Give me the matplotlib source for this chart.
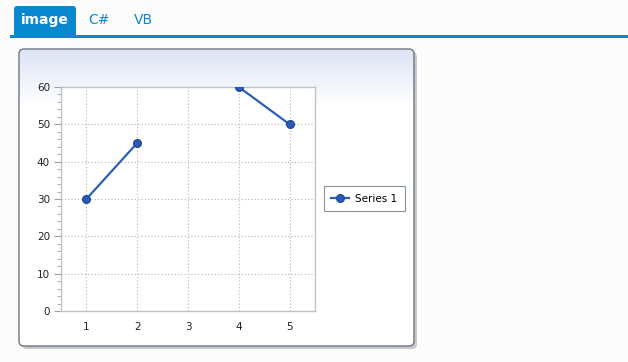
import numpy as np
import matplotlib
matplotlib.use("Agg")
import matplotlib.pyplot as plt
from matplotlib.patches import FancyBboxPatch, Rectangle
from matplotlib.lines import Line2D
from matplotlib.ticker import MultipleLocator

# data
categories = [1, 2, 3, 4, 5]
series1 = [30, 45, np.nan, 60, 50]
series_name = "Series 1"
tabs = ["image", "C#", "VB"]

W, H = 628, 362
fig = plt.figure(figsize=(W / 100, H / 100), dpi=100)
fig.patch.set_facecolor("#fcfcfc")

bg = fig.add_axes([0, 0, 1, 1])
bg.set_xlim(0, W)
bg.set_ylim(H, 0)
bg.axis("off")

# tabs
blue = "#0a88cf"
bg.add_patch(FancyBboxPatch((14, 6), 62, 32, boxstyle="round,pad=0,rounding_size=3",
                            fc=blue, ec="none"))
bg.add_patch(Rectangle((10, 35), W - 10, 3, fc=blue, ec="none"))
bg.text(45, 20, tabs[0], color="white", fontsize=10, fontweight="bold",
        ha="center", va="center", family="DejaVu Sans")
bg.text(99, 20, tabs[1], color=blue, fontsize=10, ha="center", va="center")
bg.text(143, 20, tabs[2], color=blue, fontsize=10, ha="center", va="center")

# panel shadow
bg.add_patch(FancyBboxPatch((22, 52), 395, 297, boxstyle="round,pad=0,rounding_size=5",
                            fc="#c9c9c9", ec="none"))
panel = FancyBboxPatch((19, 49), 395, 297, boxstyle="round,pad=0,rounding_size=5",
                       fc="white", ec="none")
bg.add_patch(panel)
grad = np.linspace(0, 1, 100).reshape(-1, 1)
top = np.array([0.86, 0.89, 0.96])
bot = np.array([1.0, 1.0, 1.0])
img = top[None, None, :] * (1 - grad[..., None]) + bot[None, None, :] * grad[..., None]
im = bg.imshow(img, extent=[19, 414, 105, 49], aspect="auto", zorder=2)
im.set_clip_path(panel)
bg.add_patch(FancyBboxPatch((19, 49), 395, 297, boxstyle="round,pad=0,rounding_size=5",
                            fc="none", ec="#6d7680", lw=1.0, zorder=3))
bg.set_xlim(0, W)
bg.set_ylim(H, 0)

# plot axes
ax = fig.add_axes([61 / W, (H - 311) / H, 254 / W, 224 / H])
ax.set_facecolor("white")
line_color = "#2b5fb8"
ax.plot(categories, series1, color=line_color, lw=1.6, marker="o", markersize=5.5,
        markerfacecolor="#2b5cb5", markeredgecolor="#1f4a9a", label=series_name, zorder=3)
ax.set_xlim(0.5, 5.5)
ax.set_ylim(0, 60)
ax.set_xticks(categories)
ax.yaxis.set_major_locator(MultipleLocator(10))
ax.yaxis.set_minor_locator(MultipleLocator(2))
ax.grid(True, which="major", color="#b4b4b4", ls=(0, (1, 2)), lw=0.8)
for s in ax.spines.values():
    s.set_color("#bcc3ca")
    s.set_linewidth(1.0)
ax.tick_params(axis="x", length=0, pad=8, labelsize=7.5, colors="#222222")
ax.tick_params(axis="y", which="major", length=5, color="#a0a0a0", labelsize=7.5,
               labelcolor="#222222", pad=3)
ax.tick_params(axis="y", which="minor", length=3, color="#a0a0a0")

# legend
leg = fig.legend(handles=[Line2D([], [], color=line_color, lw=1.6, marker="o", markersize=5.5,
                                 markerfacecolor="#2b5cb5", markeredgecolor="#1f4a9a")],
                 labels=[series_name], loc="center left",
                 bbox_to_anchor=(324 / W, (H - 198.5) / H), frameon=True, fancybox=False,
                 fontsize=7.5, handlelength=1.7, borderpad=0.7, handletextpad=0.6,
                 borderaxespad=0)
leg.get_frame().set_edgecolor("#6d7680")
leg.get_frame().set_linewidth(0.8)

fig.savefig("out.png", dpi=100, facecolor=fig.get_facecolor())
